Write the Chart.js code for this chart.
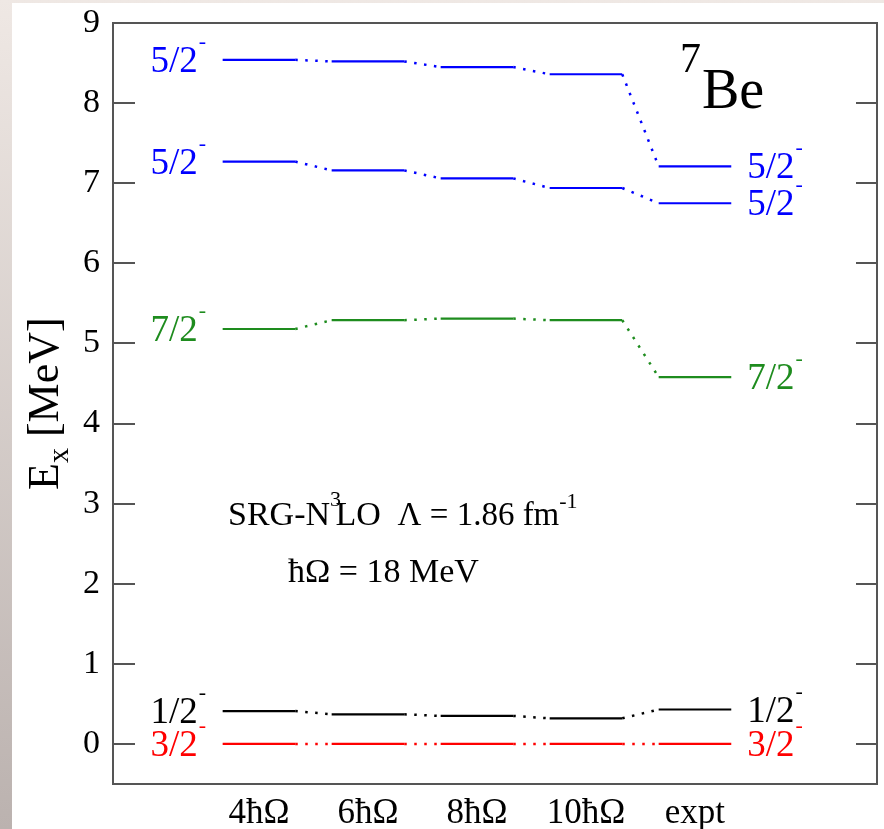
<!DOCTYPE html>
<html>
<head>
<meta charset="utf-8">
<script src="https://cdn.jsdelivr.net/npm/chart.js@4.4.0/dist/chart.umd.min.js"></script>
<style>
  html, body { margin: 0; padding: 0; }
  body {
    width: 884px; height: 829px; position: relative; overflow: hidden;
    background: linear-gradient(to bottom, #efe8e4, #bbb2af);
  }
  #sheet { position: absolute; left: 12px; top: 3px; right: 0; bottom: 0; background: #fff; }
  #c { position: absolute; left: 0; top: 0; }
</style>
</head>
<body>
<div id="sheet"></div>
<canvas id="c" width="884" height="829"></canvas>
<script>
// ---- data ---------------------------------------------------------------
const columnLabels = ["4ħΩ", "6ħΩ", "8ħΩ", "10ħΩ", "expt"];
const columnPos = [1, 2, 3, 4, 5];
const yTicks = [0, 1, 2, 3, 4, 5, 6, 7, 8, 9];

// excitation energies [MeV], one array per state
const e52upper = [8.54, 8.52, 8.45, 8.36, 7.21];
const e52lower = [7.27, 7.16, 7.06, 6.94, 6.75];
const e72 = [5.18, 5.29, 5.31, 5.29, 4.58];
const e12 = [0.41, 0.37, 0.35, 0.32, 0.43];
const e32 = [0, 0, 0, 0, 0];

const states = [
  { name: "5/2", values: e52upper, color: "#0000ff" },
  { name: "5/2", values: e52lower, color: "#0000ff" },
  { name: "7/2", values: e72, color: "#1e8c1e" },
  { name: "1/2", values: e12, color: "#000000" },
  { name: "3/2", values: e32, color: "#ff0000" },
];

const HALF = 0.333; // half width of a level bar, in column units
const FONT = "'Liberation Serif', 'DejaVu Serif', serif";

// level bar + connector polyline for one state
function levelPoints(values) {
  const pts = [];
  values.forEach((v, i) => {
    pts.push({ x: columnPos[i] - HALF, y: v });
    pts.push({ x: columnPos[i] + HALF, y: v });
  });
  return pts;
}

// ---- drawing helpers ----------------------------------------------------
function stateLabel(ctx, text, x, y, color, align) {
  ctx.save();
  ctx.fillStyle = color;
  ctx.font = "37px " + FONT;
  ctx.textBaseline = "alphabetic";
  const w = ctx.measureText(text).width;
  const x0 = align === "right" ? x - w : x;
  ctx.textAlign = "left";
  ctx.fillText(text, x0, y + 12);
  ctx.font = "22px " + FONT;
  ctx.fillText("-", x0 + w + 1, y - 12);
  ctx.restore();
}

// draw a run of [text, size, raise, advance] pieces
function richText(ctx, x, y, parts) {
  let cx = x;
  parts.forEach(([t, size, raise, adv]) => {
    ctx.font = size + "px " + FONT;
    ctx.fillText(t, cx, y - (raise || 0));
    cx += ctx.measureText(t).width * (adv == null ? 1 : adv);
  });
}

const decorPlugin = {
  id: "decor",
  afterDraw(chart) {
    const ctx = chart.ctx;
    const xs = chart.scales.x, ys = chart.scales.y;
    const a = chart.chartArea;

    // frame + inward ticks on left and right
    ctx.save();
    ctx.strokeStyle = "#555";
    ctx.lineWidth = 2;
    ctx.strokeRect(a.left, a.top, a.right - a.left, a.bottom - a.top);
    ctx.beginPath();
    yTicks.forEach((v) => {
      const y = Math.round(ys.getPixelForValue(v));
      ctx.moveTo(a.left, y); ctx.lineTo(a.left + 22, y);
      ctx.moveTo(a.right - 21, y); ctx.lineTo(a.right, y);
    });
    ctx.stroke();
    ctx.restore();

    // state labels on both sides
    const last = columnPos.length - 1;
    states.forEach((s) => {
      const xl = xs.getPixelForValue(columnPos[0] - HALF) - 25;
      const xr = xs.getPixelForValue(columnPos[last] + HALF) + 16;
      stateLabel(ctx, s.name, xl, ys.getPixelForValue(s.values[0]), s.color, "right");
      stateLabel(ctx, s.name, xr, ys.getPixelForValue(s.values[last]), s.color, "left");
    });

    ctx.save();
    ctx.fillStyle = "#000";
    ctx.textBaseline = "alphabetic";

    // nucleus
    richText(ctx, 680, 72, [["7", 42, 0]]);
    richText(ctx, 702, 108, [["Be", 56, 0]]);

    // interaction annotation
    richText(ctx, 228, 525, [
      ["SRG-N", 34, 0], ["3", 22, 19, 0.5], ["LO ", 34, 0], [" Λ = 1.86 fm", 33, 0], ["-1", 22, 17],
    ]);
    richText(ctx, 288, 582, [["ħΩ = 18 MeV", 34, 0]]);

    // y-axis title
    ctx.translate(58, 490);
    ctx.rotate(-Math.PI / 2);
    richText(ctx, 0, 0, [["E", 44, 0], ["x", 30, -10], [" [MeV]", 44, 0]]);
    ctx.restore();
  },
};

const datasets = states.map((s) => ({
  data: levelPoints(s.values),
  borderColor: s.color,
  borderWidth: 2.2,
  pointRadius: 0,
  fill: false,
  tension: 0,
  segment: {
    borderDash: (c) => (c.p0DataIndex % 2 === 1 ? [2.5, 7.5] : undefined),
    borderWidth: (c) => (c.p0DataIndex % 2 === 1 ? 2.5 : 2.2),
  },
}));

new Chart(document.getElementById("c"), {
  type: "line",
  data: { datasets },
  options: {
    responsive: false,
    animation: false,
    devicePixelRatio: 1,
    layout: { padding: { left: 0, top: 23, right: 7, bottom: 0 } },
    plugins: { legend: { display: false }, tooltip: { enabled: false } },
    scales: {
      x: {
        type: "linear",
        min: -0.339,
        max: 6.67,
        grid: { display: false, drawTicks: false },
        border: { display: false },
        afterBuildTicks: (s) => { s.ticks = columnPos.map((v) => ({ value: v })); },
        afterFit: (s) => { s.height = 45; s.paddingLeft = 0; s.paddingRight = 0; },
        ticks: {
          color: "#000",
          padding: 9,
          maxRotation: 0,
          font: { family: FONT, size: 35 },
          callback: (v) => columnLabels[columnPos.indexOf(v)],
        },
      },
      y: {
        min: -0.5,
        max: 9,
        grid: { display: false, drawTicks: false },
        border: { display: false },
        afterBuildTicks: (s) => { s.ticks = yTicks.map((v) => ({ value: v })); },
        afterFit: (s) => { s.width = 113; s.paddingTop = 0; s.paddingBottom = 0; },
        ticks: {
          color: "#000",
          padding: 13,
          font: { family: FONT, size: 34 },
        },
      },
    },
  },
  plugins: [decorPlugin],
});
</script>
</body>
</html>
